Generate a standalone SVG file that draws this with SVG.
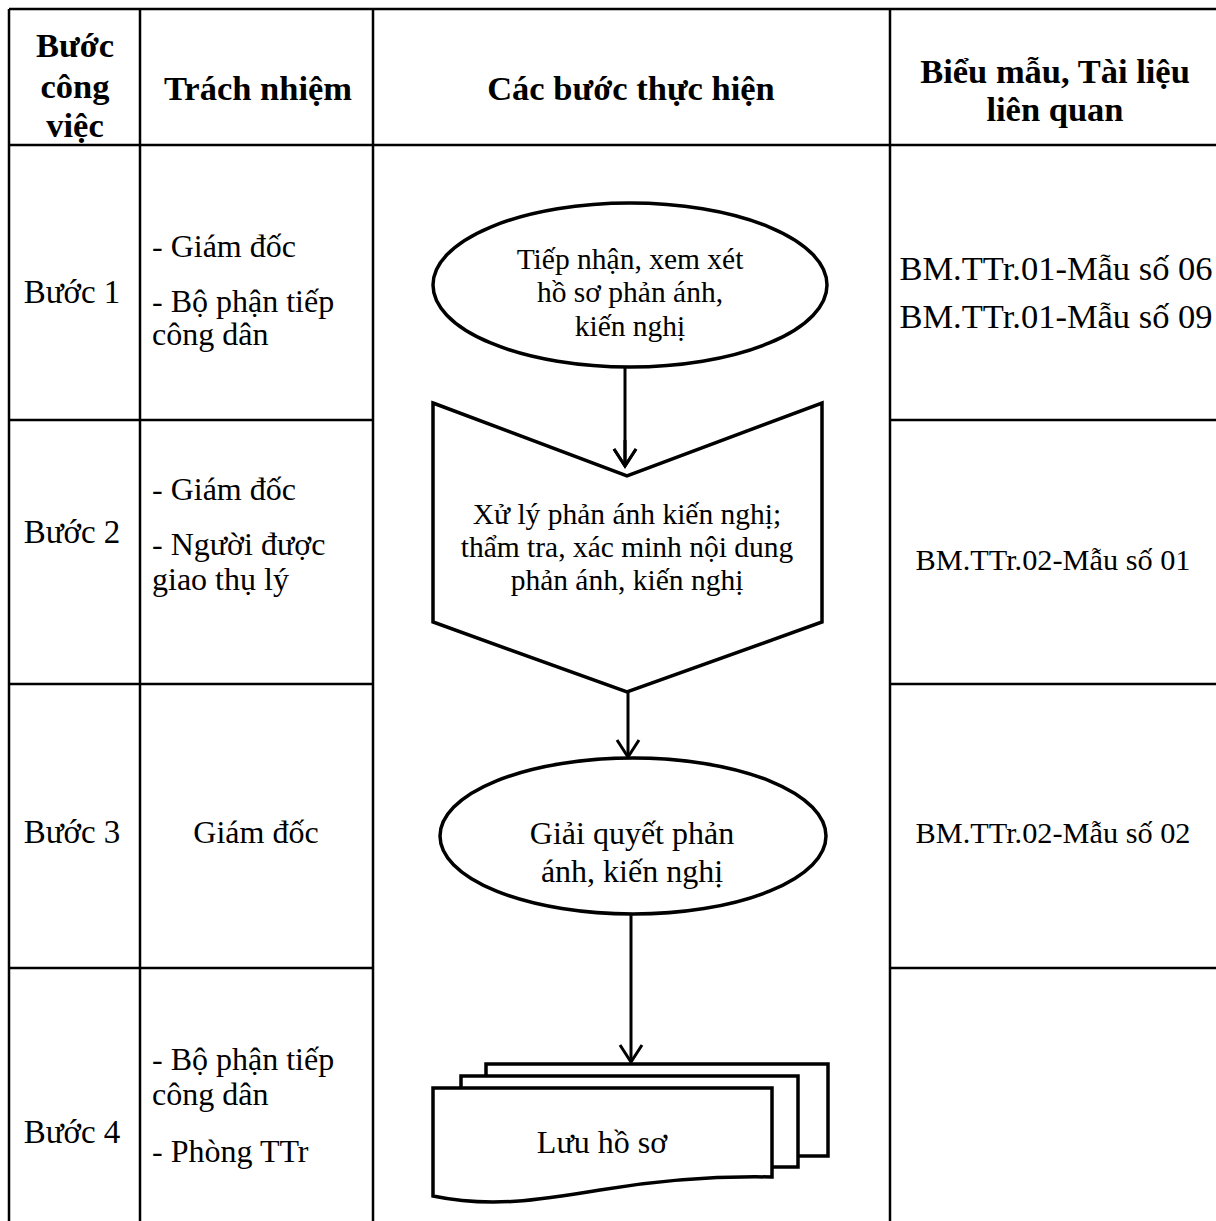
<svg xmlns="http://www.w3.org/2000/svg" width="1216" height="1221" viewBox="0 0 1216 1221">
<style>
.grid{stroke:#000;stroke-width:2.5;fill:none}
.shape{stroke:#000;stroke-width:3.5;fill:#fff}
.conn{stroke:#000;stroke-width:3;fill:none}
.head{stroke:#000;stroke-width:3;fill:none;stroke-linejoin:miter}
text{font-family:"Liberation Serif","Times New Roman",serif;fill:#000}
.h{font-size:34.5px;font-weight:bold}
.s{font-size:33px}
.r{font-size:32px}
.b1{font-size:34.5px}
.b2{font-size:30.3px}
.f1{font-size:29.5px}
.f2{font-size:32px}
.c{text-anchor:middle}
</style>
<rect width="1216" height="1221" fill="#fff"/>
<g id="table">
<line class="grid" x1="9" y1="9" x2="1216" y2="9"/>
<line class="grid" x1="9" y1="145" x2="1216" y2="145"/>
<line class="grid" x1="9" y1="420" x2="373" y2="420"/>
<line class="grid" x1="890" y1="420" x2="1216" y2="420"/>
<line class="grid" x1="9" y1="684" x2="373" y2="684"/>
<line class="grid" x1="890" y1="684" x2="1216" y2="684"/>
<line class="grid" x1="9" y1="968" x2="373" y2="968"/>
<line class="grid" x1="890" y1="968" x2="1216" y2="968"/>
<line class="grid" x1="9" y1="9" x2="9" y2="1221"/>
<line class="grid" x1="140" y1="9" x2="140" y2="1221"/>
<line class="grid" x1="373" y1="9" x2="373" y2="1221"/>
<line class="grid" x1="890" y1="9" x2="890" y2="1221"/>
</g>
<g id="header">
<text class="h c" x="75" y="57">Bước</text>
<text class="h c" x="75" y="98">công</text>
<text class="h c" x="75" y="137">việc</text>
<text class="h c" x="258" y="100">Trách nhiệm</text>
<text class="h c" x="631" y="100">Các bước thực hiện</text>
<text class="h c" x="1055" y="83">Biểu mẫu, Tài liệu</text>
<text class="h c" x="1055" y="121">liên quan</text>
</g>
<g id="row1">
<text class="s c" x="72" y="303">Bước 1</text>
<text class="r" x="152" y="257">- Giám đốc</text>
<text class="r" x="152" y="312">- Bộ phận tiếp</text>
<text class="r" x="152" y="345">công dân</text>
<text class="b1 c" x="1056" y="280">BM.TTr.01-Mẫu số 06</text>
<text class="b1 c" x="1056" y="328">BM.TTr.01-Mẫu số 09</text>
</g>
<g id="row2">
<text class="s c" x="72" y="543">Bước 2</text>
<text class="r" x="152" y="500">- Giám đốc</text>
<text class="r" x="152" y="555">- Người được</text>
<text class="r" x="152" y="590">giao thụ lý</text>
<text class="b2 c" x="1053" y="570">BM.TTr.02-Mẫu số 01</text>
</g>
<g id="row3">
<text class="s c" x="72" y="843">Bước 3</text>
<text class="r c" x="256" y="843">Giám đốc</text>
<text class="b2 c" x="1053" y="843">BM.TTr.02-Mẫu số 02</text>
</g>
<g id="row4">
<text class="s c" x="72" y="1143">Bước 4</text>
<text class="r" x="152" y="1070">- Bộ phận tiếp</text>
<text class="r" x="152" y="1105">công dân</text>
<text class="r" x="152" y="1162">- Phòng TTr</text>
</g>
<g id="connectors">
<line class="conn" x1="625" y1="367" x2="625" y2="465"/>
<polyline class="head" points="614,449 625,466 636,449"/>
<line class="conn" x1="628" y1="692" x2="628" y2="756"/>
<polyline class="head" points="617,740 628,757 639,740"/>
<line class="conn" x1="631" y1="914" x2="631" y2="1061"/>
<polyline class="head" points="620,1045 631,1062 642,1045"/>
</g>
<g id="n1">
<ellipse class="shape" cx="630" cy="285" rx="197" ry="82"/>
<text class="f1 c" x="630" y="269">Tiếp nhận, xem xét</text>
<text class="f1 c" x="630" y="302">hồ sơ phản ánh,</text>
<text class="f1 c" x="630" y="336">kiến nghị</text>
</g>
<g id="n2">
<polygon class="shape" points="433,403 627,476 822,403 822,622 627,692 433,622"/>
<line class="conn" x1="625" y1="440" x2="625" y2="465"/>
<polyline class="head" points="614,449 625,466 636,449"/>
<text class="f1 c" x="627" y="524">Xử lý phản ánh kiến nghị;</text>
<text class="f1 c" x="627" y="557">thẩm tra, xác minh nội dung</text>
<text class="f1 c" x="627" y="590">phản ánh, kiến nghị</text>
</g>
<g id="n3">
<ellipse class="shape" cx="633" cy="836" rx="193" ry="78"/>
<text class="f2 c" x="632" y="844">Giải quyết phản</text>
<text class="f2 c" x="632" y="882">ánh, kiến nghị</text>
</g>
<g id="n4">
<rect class="shape" x="486" y="1064" width="342" height="92"/>
<rect class="shape" x="461" y="1076" width="337" height="91"/>
<path class="shape" d="M433,1088 H772 V1177 C720,1176 660,1180 600,1190 C540,1200 490,1208 433,1196 Z"/>
<text class="f2 c" x="602" y="1153">Lưu hồ sơ</text>
</g>
</svg>
